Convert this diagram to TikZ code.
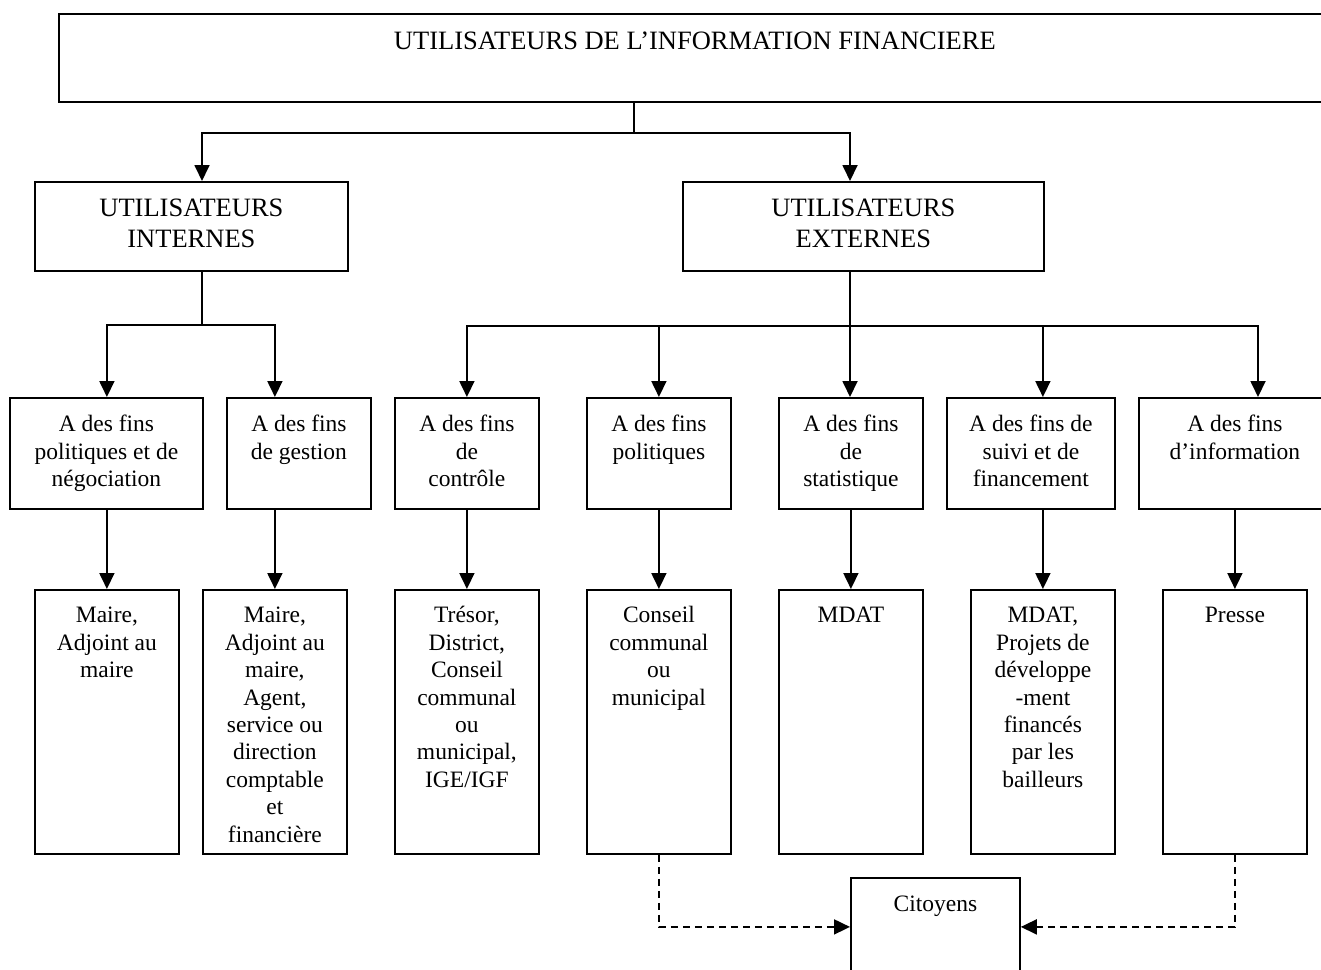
\documentclass[tikz,border=0pt]{standalone}
\usepackage{fontspec}
\setmainfont{Liberation Serif}
\usetikzlibrary{arrows.meta}

\tikzset{
  box/.style={draw, line width=1.8pt, anchor=north west, align=flush center,
    inner xsep=0pt, inner ysep=0pt, font=\fontsize{23.5}{27.4}\selectfont},
  big/.style={font=\fontsize{26.5}{31}\selectfont},
  con/.style={line width=1.8pt},
  arr/.style={con, -{Triangle[length=16pt,width=15pt]}},
}

\begin{document}
\begin{tikzpicture}[x=1pt, y=-1pt]
  \useasboundingbox (0,0) rectangle (1321,969);
  \clip (0,0) rectangle (1321,969);

  % niveau 1
  \node[box, big, text width=1272pt, text height=36pt, text depth=52pt] (top) at (58,13)
    {UTILISATEURS DE L’INFORMATION FINANCIERE};

  % niveau 2
  \node[box, big, text width=313pt, text height=35pt, text depth=54pt] (int) at (34,181)
    {UTILISATEURS\\INTERNES};
  \node[box, big, text width=361pt, text height=35pt, text depth=54pt] (ext) at (682,181)
    {UTILISATEURS\\EXTERNES};

  % niveau 3 : les fins
  \node[box, text width=193pt, text height=34pt, text depth=77pt] (f1) at (9,397)
    {A des fins\\politiques et de\\négociation};
  \node[box, text width=144pt, text height=34pt, text depth=77pt] (f2) at (226,397)
    {A des fins\\de gestion};
  \node[box, text width=144pt, text height=34pt, text depth=77pt] (f3) at (394,397)
    {A des fins\\de\\contrôle};
  \node[box, text width=144pt, text height=34pt, text depth=77pt] (f4) at (586,397)
    {A des fins\\politiques};
  \node[box, text width=144pt, text height=34pt, text depth=77pt] (f5) at (778,397)
    {A des fins\\de\\statistique};
  \node[box, text width=168pt, text height=34pt, text depth=77pt] (f6) at (946,397)
    {A des fins de\\suivi et de\\financement};
  \node[box, text width=192pt, text height=34pt, text depth=77pt] (f7) at (1138,397)
    {A des fins\\d’information};

  % niveau 4 : les utilisateurs
  \node[box, text width=144pt, text height=33pt, text depth=231pt] (m1) at (34,589)
    {Maire,\\Adjoint au\\maire};
  \node[box, text width=144pt, text height=33pt, text depth=231pt] (m2) at (202,589)
    {Maire,\\Adjoint au\\maire,\\Agent,\\service ou\\direction\\comptable\\et\\financière};
  \node[box, text width=144pt, text height=33pt, text depth=231pt] (m3) at (394,589)
    {Trésor,\\District,\\Conseil\\communal\\ou\\municipal,\\IGE/IGF};
  \node[box, text width=144pt, text height=33pt, text depth=231pt] (m4) at (586,589)
    {Conseil\\communal\\ou\\municipal};
  \node[box, text width=144pt, text height=33pt, text depth=231pt] (m5) at (778,589)
    {MDAT};
  \node[box, text width=144pt, text height=33pt, text depth=231pt] (m6) at (970,589)
    {MDAT,\\Projets de\\développe\\-ment\\financés\\par les\\bailleurs};
  \node[box, text width=144pt, text height=33pt, text depth=231pt] (m7) at (1162,589)
    {Presse};

  \node[box, text width=169pt, text height=34pt, text depth=64pt] (cit) at (850,877)
    {Citoyens};

  % jonctions
  \coordinate (jt) at (634,133);
  \coordinate (ti) at (202,133);
  \coordinate (te) at (850,133);
  \coordinate (ji) at (202,325);
  \coordinate (je) at (850,326);
  \coordinate (x7) at (1258,326);

  % connecteurs
  \draw[con] (top.south -| jt) -- (jt);
  \draw[arr] (jt) -- (ti) -- (int.north -| ti);
  \draw[arr] (jt) -- (te) -- (ext.north -| te);

  \draw[con] (int.south -| ji) -- (ji);
  \draw[arr] (ji) -| (f1.north -| m1.north);
  \draw[arr] (ji) -| (f2.north -| m2.north);

  \draw[con] (ext.south -| je) -- (je);
  \draw[arr] (je) -| (f3.north -| m3.north);
  \draw[arr] (je) -| (f4.north -| m4.north);
  \draw[arr] (je) -- (f5.north -| je);
  \draw[arr] (je) -| (f6.north -| m6.north);
  \draw[arr] (je) -- (x7) -- (f7.north -| x7);

  \draw[arr] (f1.south -| m1.north) -- (m1.north);
  \draw[arr] (f2.south -| m2.north) -- (m2.north);
  \draw[arr] (f3.south -| m3.north) -- (m3.north);
  \draw[arr] (f4.south -| m4.north) -- (m4.north);
  \draw[arr] (f5.south -| m5.north) -- (m5.north);
  \draw[arr] (f6.south -| m6.north) -- (m6.north);
  \draw[arr] (f7.south -| m7.north) -- (m7.north);

  % vers les citoyens
  \draw[arr, dash pattern=on 7pt off 5pt] (m4.south) |- (cit.west);
  \draw[arr, dash pattern=on 7pt off 5pt] (m7.south) |- (cit.east);
\end{tikzpicture}
\end{document}
